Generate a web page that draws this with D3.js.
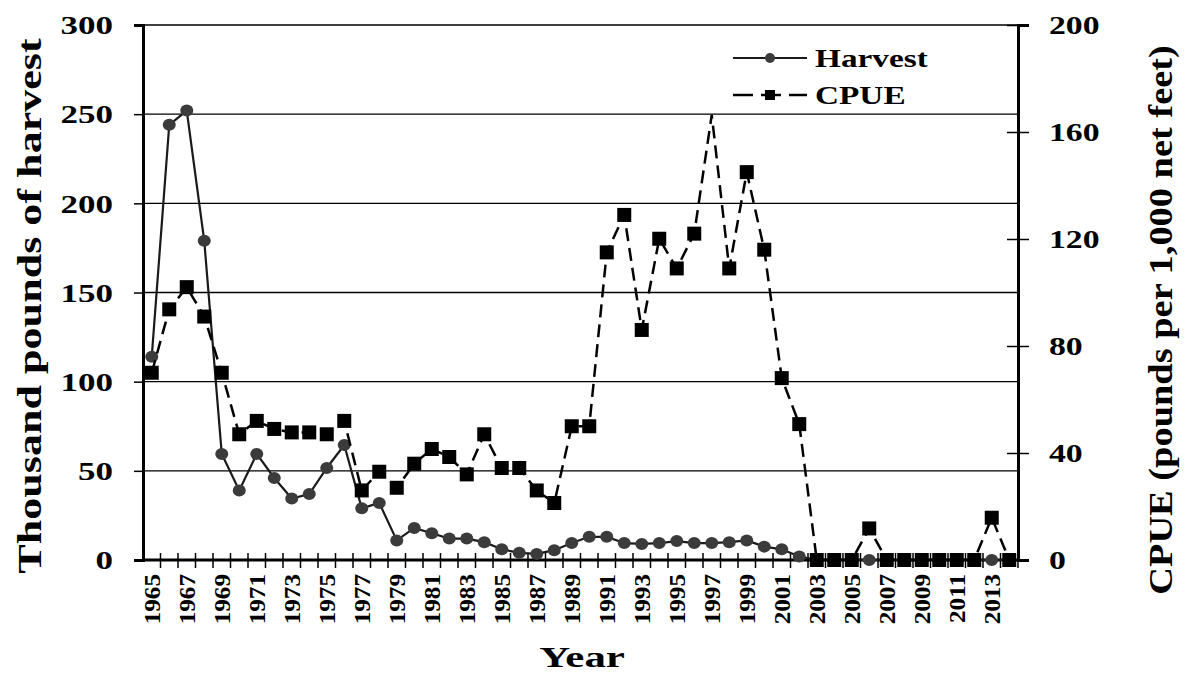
<!DOCTYPE html>
<html>
<head>
<meta charset="utf-8">
<script src="https://cdn.jsdelivr.net/npm/d3@7"></script>
<style>
  body { margin: 0; background: #fff; }
  svg { display: block; font-family: "Liberation Serif", "Times New Roman", serif; font-weight: bold; }
</style>
</head>
<body>
<svg id="chart" width="1197" height="673"></svg>
<script>
const years = d3.range(1965, 2015);

// thousand pounds
const harvest = [
  114, 244, 252, 179, 59.5, 39, 59.5, 46, 34.5, 37,
  51.6, 64.5, 29, 32, 11, 18, 15, 12, 12, 10,
  6, 4, 3.4, 5.5, 9.5, 13, 13, 9.5, 9, 9.5,
  10.6, 9.5, 9.5, 10, 11, 7.5, 6, 2, 0, 0,
  0, 0, 0, 0, 0, 0, 0, 0, 0, 0
];

// pounds per 1,000 net feet
const cpue = [
  70, 93.7, 102, 91, 70, 47, 52, 49, 47.7, 47.7,
  47, 52, 26, 33, 27, 36, 41.5, 38.5, 32, 47,
  34.4, 34.4, 26, 21.3, 50, 50, 115, 129, 86, 120.1,
  109, 122, 166.4, 109, 145, 116, 68, 50.8, 0, 0,
  0, 11.8, 0, 0, 0, 0, 0, 0, 15.8, 0
];
const cpueNoMarker = [1997];

const leftTicks = [0, 50, 100, 150, 200, 250, 300];
const rightTicks = [0, 40, 80, 120, 160, 200];
const yearLabels = years.filter(y => (y - 1965) % 2 === 0);

const svg = d3.select('#chart');
const margin = { top: 25, right: 179, bottom: 113, left: 143 };
const width = 1197 - margin.left - margin.right;
const height = 673 - margin.top - margin.bottom;

const g = svg.append('g').attr('transform', `translate(${margin.left},${margin.top})`);

const x = d3.scaleBand().domain(years).range([0, width]);
const yL = d3.scaleLinear().domain([0, 300]).range([height, 0]);
const yR = d3.scaleLinear().domain([0, 200]).range([height, 0]);
const cx = (yr) => x(yr) + x.bandwidth() / 2;

// stretched text, the source figure is wider than a plain Times face
function label(parent, txt, tx, ty, rot, sx, sy, size, anchor) {
  return parent.append('text')
    .attr('transform', `translate(${tx},${ty}) rotate(${rot}) scale(${sx},${sy})`)
    .attr('text-anchor', anchor)
    .attr('dy', '0.35em')
    .style('font-size', size + 'px')
    .text(txt);
}

// gridlines
g.append('g')
  .selectAll('line')
  .data(leftTicks.filter(d => d > 0))
  .join('line')
  .attr('x1', 0)
  .attr('x2', width)
  .attr('y1', d => yL(d))
  .attr('y2', d => yL(d))
  .attr('stroke', '#000')
  .attr('stroke-width', 1.4);

// left axis
const leftAxis = g.append('g')
  .call(d3.axisLeft(yL).tickValues(leftTicks).tickSize(9));
leftAxis.select('.domain').attr('stroke-width', 3);
leftAxis.selectAll('.tick line').attr('stroke-width', 1.5);
leftAxis.selectAll('.tick text')
  .attr('x', 0)
  .attr('transform', 'translate(-30,0) scale(1.4,1)')
  .style('font-size', '25px')
  .style('font-family', '"Liberation Serif", serif')
  .style('font-weight', 'bold')
  .attr('dy', '0.35em');

// right axis
const rightAxis = g.append('g')
  .attr('transform', `translate(${width},0)`)
  .call(d3.axisRight(yR).tickValues(rightTicks).tickSize(11));
rightAxis.select('.domain').attr('stroke-width', 3);
rightAxis.selectAll('.tick line').attr('x1', -11).attr('stroke-width', 1.5);
rightAxis.selectAll('.tick text')
  .attr('x', 0)
  .attr('transform', 'translate(31,0) scale(1.35,1)')
  .style('font-size', '25px')
  .style('font-family', '"Liberation Serif", serif')
  .style('font-weight', 'bold')
  .attr('dy', '0.35em');

// x axis: ticks between categories, crossing the line
const xAxis = g.append('g').attr('transform', `translate(0,${height})`);
xAxis.append('line')
  .attr('x1', 0).attr('x2', width)
  .attr('stroke', '#000').attr('stroke-width', 3);
xAxis.selectAll('.xtick')
  .data(years)
  .join('line')
  .attr('class', 'xtick')
  .attr('x1', d => x(d) + x.bandwidth())
  .attr('x2', d => x(d) + x.bandwidth())
  .attr('y1', -7)
  .attr('y2', 8)
  .attr('stroke', '#000')
  .attr('stroke-width', 1.5);
yearLabels.forEach(d => {
  label(xAxis, d, cx(d) + 1, 14, -90, 1.2, 1.05, 21, 'end');
});

// harvest line
const harvestData = years.map((yr, i) => ({ yr, v: harvest[i] }));
g.append('path')
  .datum(harvestData)
  .attr('fill', 'none')
  .attr('stroke', '#1a1a1a')
  .attr('stroke-width', 2.2)
  .attr('d', d3.line().x(d => cx(d.yr)).y(d => yL(d.v)));
g.append('g')
  .selectAll('ellipse')
  .data(harvestData)
  .join('ellipse')
  .attr('cx', d => cx(d.yr))
  .attr('cy', d => yL(d.v))
  .attr('rx', 6.5)
  .attr('ry', 6)
  .attr('fill', '#3b3b3b');

// cpue line
const cpueData = years.map((yr, i) => ({ yr, v: cpue[i] }));
g.append('path')
  .datum(cpueData)
  .attr('fill', 'none')
  .attr('stroke', '#000')
  .attr('stroke-width', 2.5)
  .attr('stroke-dasharray', '13,7')
  .attr('d', d3.line().x(d => cx(d.yr)).y(d => yR(d.v)));
g.append('g')
  .selectAll('rect')
  .data(cpueData.filter(d => !cpueNoMarker.includes(d.yr)))
  .join('rect')
  .attr('x', d => cx(d.yr) - 7)
  .attr('y', d => yR(d.v) - 7)
  .attr('width', 14)
  .attr('height', 14)
  .attr('fill', '#000');

// legend
const legend = svg.append('g').attr('transform', 'translate(733,58)');
legend.append('line').attr('x1', 0).attr('x2', 74).attr('stroke', '#1a1a1a').attr('stroke-width', 2);
legend.append('circle').attr('cx', 37).attr('r', 5).attr('fill', '#3b3b3b');
label(legend, 'Harvest', 82, 0, 0, 1.28, 1, 26, 'start');
const leg2 = legend.append('g').attr('transform', 'translate(0,37)');
leg2.append('line').attr('x1', 0).attr('x2', 74).attr('stroke', '#000').attr('stroke-width', 2.5).attr('stroke-dasharray', '20,8');
leg2.append('rect').attr('x', 32).attr('y', -5).attr('width', 10).attr('height', 10).attr('fill', '#000');
label(leg2, 'CPUE', 82, 0, 0, 1.28, 1, 26, 'start');

// axis titles
label(svg, 'Thousand  pounds of harvest', 29, 306, -90, 1.47, 1.1, 30, 'middle');
label(svg, 'CPUE (pounds per 1,000 net feet)', 1160, 320, -90, 1.28, 1.1, 30, 'middle');
svg.append('text')
  .attr('transform', 'translate(582,667) scale(1.43,1)')
  .attr('text-anchor', 'middle')
  .style('font-size', '30px')
  .text('Year');
</script>
</body>
</html>
